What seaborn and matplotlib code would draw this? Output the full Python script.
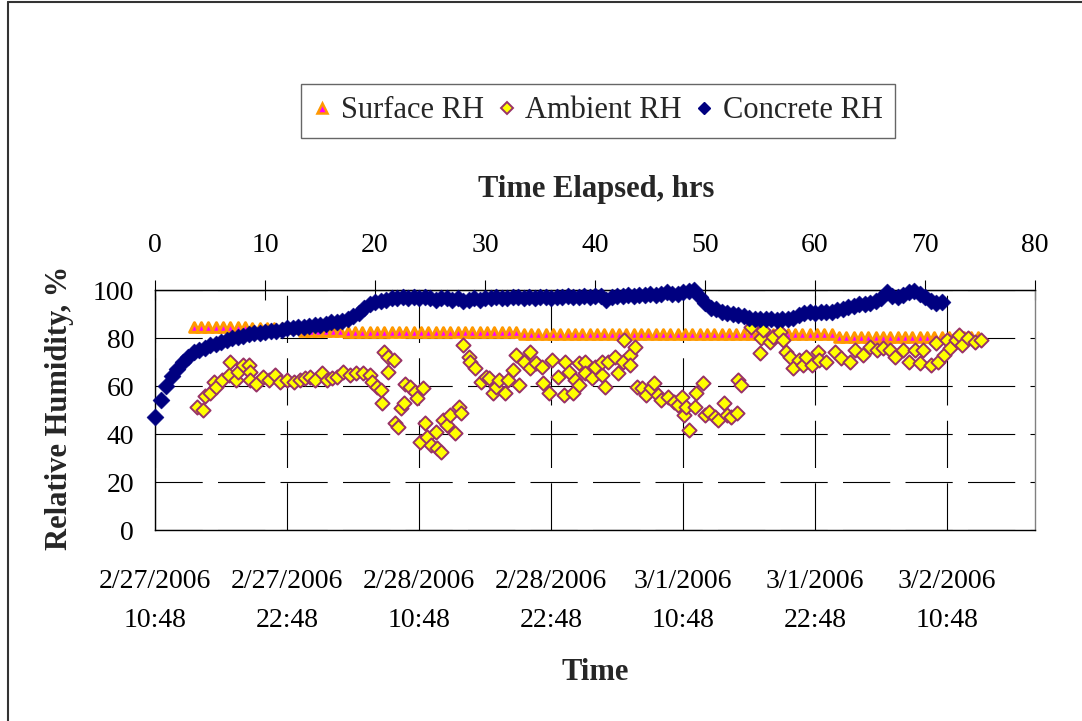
import numpy as np
import seaborn as sns
import matplotlib.pyplot as plt
from matplotlib.lines import Line2D

# Concrete RH, logged every half hour from the start of the test
concrete_rh = [
    47, 54, 60, 64, 67, 70, 72, 74, 75, 76,
    77, 77.5, 78.5, 79, 80, 80.5, 81, 81.5, 82, 82,
    82.5, 83, 83, 83.5, 84, 84, 84.5, 84.5, 85, 85.5,
    85.5, 86, 86.5, 86.5, 87, 88, 89, 90.5, 92.5, 94,
    95, 95.5, 96, 96.5, 96.5, 97, 96.5, 97, 96.5, 97,
    96.5, 96, 96.5, 96.5, 96, 96.5, 95.5, 96, 96.5, 96,
    96.5, 96.5, 97, 96.5, 96.5, 97, 97, 96.5, 97, 96.5,
    97, 97, 96.5, 97, 97, 97.5, 97, 97, 97.5, 97,
    97.5, 97.5, 96, 97, 97.5, 97.5, 98, 97.5, 98, 98,
    98.5, 98, 98.5, 99, 98.5, 98.5, 99, 99.5, 100, 97,
    94.5, 92.5, 92, 91, 90.5, 90, 89.5, 89, 88.5, 88,
    88, 88, 88, 87.5, 88, 88, 88.5, 89.5, 90.5, 91,
    90.5, 91, 91, 91, 91.5, 92, 93, 93.5, 94, 94,
    94.5, 95.5, 96.5, 99, 97.5, 97, 98, 99, 99.5, 98.5,
    97, 95.5, 94.5, 95,
]

# Ambient RH readings (hours elapsed, %)
ambient_hours = [
    3.8, 4.4, 4.5, 5.0, 5.4, 5.5, 6.1, 6.7, 6.8, 7.4, 7.5, 8.0, 8.5, 8.6, 8.6,
    9.2, 9.8, 10.4, 10.9, 11.4, 12.0, 12.6, 13.2, 13.6, 14.1, 14.5, 15.2, 15.6,
    16.1, 16.5, 17.1, 17.7, 18.3, 18.9, 19.5, 19.7, 20.2, 20.5, 20.6, 20.8,
    21.2, 21.2, 21.7, 21.8, 22.1, 22.4, 22.6, 22.7, 23.2, 23.6, 23.8, 24.1,
    24.4, 24.5, 24.7, 25.1, 25.5, 25.6, 26.0, 26.2, 26.5, 26.8, 27.3, 27.6,
    27.8, 28.0, 28.5, 28.6, 29.1, 29.6, 30.1, 30.4, 30.7, 31.0, 31.3, 31.8,
    32.1, 32.5, 32.8, 33.1, 33.5, 34.1, 34.1, 34.6, 35.2, 35.3, 35.8, 36.1,
    36.6, 37.2, 37.3, 37.6, 38.0, 38.2, 38.5, 38.5, 39.1, 39.1, 39.7, 40.0,
    40.6, 40.6, 40.9, 41.2, 41.8, 42.1, 42.5, 42.6, 43.2, 43.2, 43.6, 43.8,
    44.3, 44.6, 45.1, 45.4, 45.7, 46.0, 46.6, 47.2, 47.5, 47.9, 48.1, 48.3,
    48.5, 49.1, 49.2, 49.8, 50.0, 50.4, 50.9, 51.2, 51.7, 52.0, 52.4, 52.9,
    53.0, 53.3, 54.2, 55.0, 55.1, 55.3, 55.9, 56.2, 56.8, 57.1, 57.4, 57.7,
    58.0, 58.5, 58.9, 59.2, 59.7, 60.3, 60.4, 61.0, 61.8, 62.4, 63.2, 63.6,
    64.4, 65.0, 65.6, 66.2, 66.8, 67.3, 68.0, 68.5, 69.1, 69.5, 69.8, 70.5,
    71.0, 71.2, 71.7, 72.0, 72.3, 72.8, 73.1, 73.4, 73.9, 74.5, 75.1,
]
ambient_rh = [
    51.4, 50, 56, 57, 61.8, 59.7, 62.5, 64.6, 70, 62.5, 66, 68.8, 68.8, 66, 62.5,
    61, 63.9, 62.5, 64.6, 61.8, 62.5, 61.8, 62.5, 63.2, 63.9, 62.5, 65.3, 62.5,
    63.2, 63.9, 66, 64.6, 65.3, 65.3, 64.6, 61.8, 59.7, 58.3, 52.8, 74.3,
    72.2, 66, 70.8, 44.4, 43, 50.7, 52.8, 61, 59.7, 57.6, 54.9, 36.8,
    59, 44.4, 38.9, 35.4, 40.9, 34, 32.6, 45.8, 43.7, 47.9, 40.3, 51.4,
    48.6, 77, 72.2, 70, 67.4, 61.8, 63.9, 63.2, 56.9, 59.7, 62.5, 56.9,
    62.5, 66.7, 72.9, 60.4, 70, 74.3, 67.4, 69.5, 68, 61.1, 56.9, 70.8,
    63.9, 56.3, 70, 66, 56.9, 62.5, 60.4, 69.4, 70, 65.3, 63.2, 68.1,
    64.6, 70, 59.7, 70, 72.2, 65.3, 70, 79.2, 72.9, 68.8, 76.4, 59.7,
    59, 56.3, 59, 61.1, 56.3, 54.2, 55.5, 53.5, 52.1, 55.5, 47.9, 51.4,
    41.7, 51.4, 56.9, 61.1, 47.9, 49.3, 47.2, 45.8, 52.8, 47.9, 47.2, 48.6,
    62.5, 60.4, 84.7, 73.6, 79.9, 83.3, 78.5, 80.6, 82.6, 79.2, 74.3, 72.2,
    67.4, 70.8, 68.8, 72.2, 68.8, 74.3, 70.8, 70, 74.3, 71.5, 70, 74.9,
    72.9, 76.4, 74.9, 75.7, 74.9, 72.2, 74.9, 70, 74.9, 69.4, 74.9, 68.8,
    77.8, 70, 72.9, 79.2, 75.7, 79.2, 81.2, 77.1, 79.9, 78.5, 79.2,
]

# Surface RH, logged every 40 min from 3.5 hrs on
surface_rh = [84.7] * 8 + [84.0] * 7 + [83.0] * 6 + [82.4] * 24 + [81.7] * 43 + [80.3] * 20

date_ticks = [0, 12, 24, 36, 48, 60, 72]
date_labels = ['2/27/2006\n10:48', '2/27/2006\n22:48', '2/28/2006\n10:48',
               '2/28/2006\n22:48', '3/1/2006\n10:48', '3/1/2006\n22:48',
               '3/2/2006\n10:48']
elapsed_ticks = [0, 10, 20, 30, 40, 50, 60, 70, 80]
rh_ticks = [0, 20, 40, 60, 80, 100]

concrete_hours = np.arange(len(concrete_rh)) * 0.5
surface_hours = 3.5 + np.arange(len(surface_rh)) * 2 / 3

sns.set_style('white')
plt.rcParams['font.family'] = ['Liberation Serif', 'DejaVu Serif']
plt.rcParams['lines.scale_dashes'] = False

W, H = 1082, 721
fig = plt.figure(figsize=(W / 100, H / 100), dpi=100)
ax = fig.add_axes([155 / W, 1 - 530 / H, 880 / W, 240 / H])

sns.scatterplot(x=surface_hours, y=surface_rh, marker='^', s=48, color='#FF00FF',
                edgecolor='#FF9900', linewidth=2.2, ax=ax, clip_on=False, zorder=3)
sns.scatterplot(x=ambient_hours, y=ambient_rh, marker='D', s=52, color='#FFFF00',
                edgecolor='#993366', linewidth=1.4, ax=ax, clip_on=False, zorder=4)
sns.scatterplot(x=concrete_hours, y=concrete_rh, marker='D', s=76, color='#000080',
                edgecolor='#000080', linewidth=0.3, ax=ax, clip_on=False, zorder=5)

ax.set_xlim(0, 80)
ax.set_ylim(0, 100)
ax.set_xticks(date_ticks, date_labels)
ax.set_yticks(rh_ticks)
ax.tick_params(axis='x', direction='out', length=7, width=0.8, pad=21, labelsize=20, colors='black')
ax.tick_params(axis='y', direction='out', length=7, width=0.8, pad=8, labelsize=20, colors='black')
for lbl in ax.get_xticklabels():
    lbl.set_linespacing(1.75)

# dashed grid like the original
ax.grid(True, color='black', linewidth=0.8, linestyle=(0, (34, 11)))
ax.set_axisbelow(True)

for side in ['top', 'left', 'bottom']:
    ax.spines[side].set_color('black')
    ax.spines[side].set_linewidth(1.0)
ax.spines['right'].set_color('#808080')
ax.spines['right'].set_linewidth(1.0)

top = ax.secondary_xaxis('top')
top.set_xticks(elapsed_ticks)
top.tick_params(direction='inout', length=14, width=0.8, pad=16, labelsize=20, colors='black')
top.spines['top'].set_color('black')

fig.text(60 / W, 1 - 408 / H, 'Relative Humidity, %', rotation=90, fontsize=22,
         fontweight='bold', ha='center', va='center')
fig.text(596 / W, 1 - 190 / H, 'Time Elapsed, hrs', fontsize=22, fontweight='bold',
         ha='center', va='center')
fig.text(595 / W, 1 - 672 / H, 'Time', fontsize=22, fontweight='bold',
         ha='center', va='center')

handles = [
    Line2D([], [], linestyle='none', marker='^', markersize=6.5, markerfacecolor='#FF00FF',
           markeredgecolor='#FF9900', markeredgewidth=1.8),
    Line2D([], [], linestyle='none', marker='D', markersize=6, markerfacecolor='#FFFF00',
           markeredgecolor='#993366', markeredgewidth=1.4),
    Line2D([], [], linestyle='none', marker='D', markersize=6, markerfacecolor='#000080',
           markeredgecolor='#000080'),
]
leg = fig.legend(handles, ['Surface RH', 'Ambient RH', 'Concrete RH'], loc='center',
                 bbox_to_anchor=(598 / W, 1 - 111 / H), ncol=3, fontsize=22,
                 frameon=True, fancybox=False, edgecolor='#404040', handlelength=0.6,
                 handletextpad=0.3, columnspacing=0.45, borderpad=0.4)
leg.get_frame().set_linewidth(1.0)

# chart area border (left and top edges visible)
fig.add_artist(Line2D([7.5 / W, 7.5 / W], [0, 1 - 2 / H], transform=fig.transFigure,
                      color='#333333', linewidth=1.5))
fig.add_artist(Line2D([7.5 / W, 1], [1 - 2 / H, 1 - 2 / H], transform=fig.transFigure,
                      color='#333333', linewidth=1.5))

fig.savefig('out.png', dpi=100)
